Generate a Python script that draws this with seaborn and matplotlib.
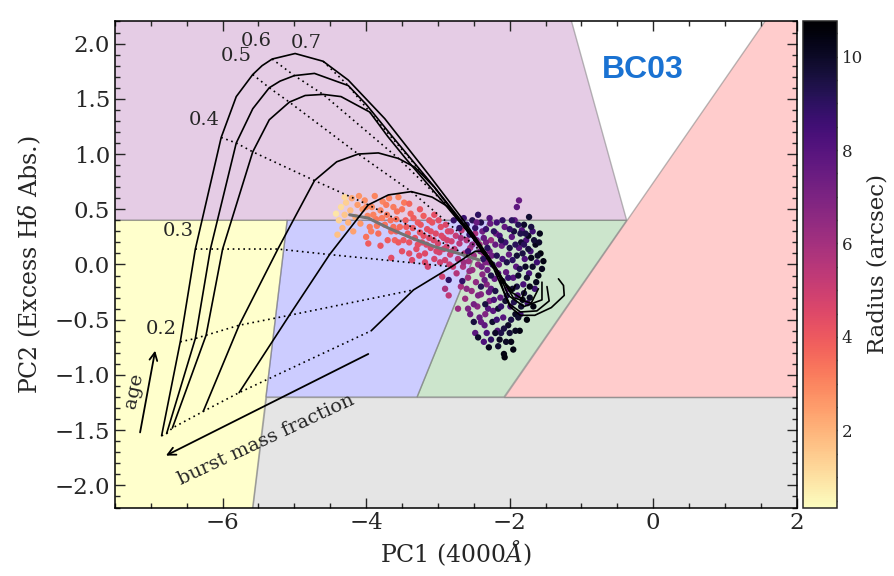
import matplotlib
matplotlib.use("Agg")
import matplotlib.pyplot as plt
import numpy as np
import pandas as pd
import seaborn as sns
from matplotlib.ticker import MultipleLocator
from matplotlib.colors import Normalize
from matplotlib.cm import ScalarMappable

# ---------------- model tracks (BC03 bursts) ----------------
# every track is sampled at the same burst ages (Gyr); dotted lines join equal ages
ages = [0.1, 0.2, 0.3, 0.4, 0.45, 0.5, 0.55, 0.6, 0.65, 0.7, 0.8, 1.0, 1.4, 2.0, 3.0, 5.0, 8.0, 13.0]
iso_ages = [0.1, 0.2, 0.3, 0.4, 0.5, 0.6, 0.7]
iso_labels = ["0.2", "0.3", "0.4", "0.5", "0.6", "0.7"]

track_a_pc1 = [-6.85, -6.59, -6.38, -6.02, -5.81, -5.58, -5.45, -5.31, -4.99, -4.60, -4.25, -3.74, -3.10, -2.62, -2.25, -2.06, -1.96, -1.92]
track_a_pc2 = [-1.55, -0.70, 0.14, 1.15, 1.52, 1.72, 1.80, 1.86, 1.91, 1.84, 1.67, 1.32, 0.79, 0.38, 0.03, -0.17, -0.24, -0.19]
track_b_pc1 = [-6.78, -6.38, -6.17, -5.81, -5.58, -5.35, -5.20, -5.00, -4.72, -4.25, -4.00, -3.65, -3.06, -2.58, -2.20, -2.00, -1.83, -1.78]
track_b_pc2 = [-1.53, -0.67, 0.14, 1.10, 1.41, 1.60, 1.66, 1.71, 1.73, 1.62, 1.45, 1.17, 0.71, 0.32, -0.02, -0.24, -0.31, -0.22]
track_c_pc1 = [-6.70, -6.23, -6.00, -5.58, -5.35, -5.07, -4.85, -4.60, -4.35, -3.95, -3.70, -3.45, -3.00, -2.55, -2.17, -1.95, -1.70, -1.60]
track_c_pc2 = [-1.48, -0.64, 0.14, 1.02, 1.31, 1.47, 1.53, 1.54, 1.52, 1.38, 1.16, 0.96, 0.62, 0.27, -0.06, -0.30, -0.35, -0.22]
track_d_pc1 = [-6.27, -5.77, -5.23, -4.72, -4.41, -4.11, -3.83, -3.55, -3.32, -3.05, -2.85, -2.60, -2.35, -2.15, -2.02, -1.80, -1.55, -1.55]
track_d_pc2 = [-1.33, -0.55, 0.14, 0.76, 0.93, 1.00, 1.01, 0.96, 0.88, 0.70, 0.53, 0.32, 0.10, -0.08, -0.28, -0.38, -0.32, -0.16]
track_e_pc1 = [-5.77, -5.07, -4.51, -3.97, -3.69, -3.37, -3.08, -2.85, -2.70, -2.52, -2.38, -2.22, -2.10, -2.00, -1.85, -1.62, -1.45, -1.48]
track_e_pc2 = [-1.16, -0.46, 0.09, 0.54, 0.63, 0.66, 0.61, 0.52, 0.40, 0.25, 0.12, -0.04, -0.22, -0.36, -0.43, -0.42, -0.33, -0.20]
track_f_pc1 = [-3.93, -3.34, -2.81, -2.58, -2.48, -2.40, -2.32, -2.26, -2.20, -2.14, -2.08, -2.00, -1.85, -1.65, -1.42, -1.24, -1.25, -1.32]
track_f_pc2 = [-0.60, -0.23, -0.02, 0.08, 0.12, 0.12, 0.07, 0.02, -0.04, -0.12, -0.25, -0.38, -0.46, -0.46, -0.39, -0.28, -0.19, -0.13]

# median trend of the spaxels
trend_pc1 = [-4.23, -3.97, -3.69, -3.37, -3.04, -2.71, -2.42]
trend_pc2 = [0.45, 0.42, 0.33, 0.24, 0.16, 0.10, 0.04]

# ---------------- spaxels, grouped by radius band ----------------
inner_pc1 = [-4.42, -4.38, -4.35, -4.33, -4.30, -4.28, -4.25, -4.22, -4.20, -4.18, -4.15, -4.12, -4.40, -4.08, -4.30, -4.05]
inner_pc2 = [0.46, 0.40, 0.52, 0.33, 0.45, 0.56, 0.38, 0.49, 0.60, 0.30, 0.43, 0.54, 0.27, 0.37, 0.61, 0.50]
inner_r = [0.9, 1.3, 1.1, 1.9, 1.6, 1.4, 2.0, 1.8, 2.3, 2.4, 2.2, 2.5, 1.7, 2.6, 1.2, 2.6]

orange_pc1 = [-4.02, -3.98, -3.95, -3.92, -3.88, -3.86, -3.83, -3.80, -3.77, -3.74, -3.71, -3.68, -3.65, -3.62, -3.58, -3.55, -3.53, -3.50, -3.47, -3.97, -3.80, -3.60, -4.00,
              -4.10, -4.00, -3.93, -3.90, -3.85, -3.78, -3.72, -3.66, -3.62, -3.57]
orange_pc2 = [0.58, 0.44, 0.34, 0.52, 0.62, 0.41, 0.28, 0.49, 0.57, 0.36, 0.45, 0.60, 0.30, 0.52, 0.41, 0.61, 0.34, 0.50, 0.56, 0.19, 0.17, 0.22, 0.25,
              0.62, 0.52, 0.30, 0.45, 0.35, 0.42, 0.54, 0.40, 0.34, 0.48]
orange_r = [2.8, 3.0, 3.2, 2.9, 3.0, 3.3, 3.5, 3.1, 3.0, 3.4, 3.3, 3.1, 3.6, 3.2, 3.5, 3.0, 3.6, 3.4, 3.3, 3.9, 4.1, 3.8, 3.4,
            2.7, 2.9, 3.2, 3.1, 3.3, 3.2, 3.2, 3.4, 3.5, 3.4]

pink_pc1 = [-3.45, -3.42, -3.40, -3.38, -3.35, -3.32, -3.30, -3.28, -3.25, -3.22, -3.20, -3.18, -3.15, -3.12, -3.10, -3.08, -3.05, -3.03, -3.00, -2.98,
            -2.96, -2.94, -2.92, -2.90, -2.88, -2.86, -2.85, -2.83, -2.81, -2.79, -3.65, -3.50, -3.36, -3.14, -3.55, -3.25, -3.05, -3.40,
            -3.44, -3.40, -3.34, -3.28, -3.24, -3.20, -3.16, -3.12, -3.10, -3.06, -3.02, -2.99, -2.95, -2.92, -2.89, -2.87, -2.84, -2.82,
            -2.80, -3.48, -3.58, -3.70, -3.18, -2.97, -3.26]
pink_pc2 = [0.40, 0.28, 0.20, 0.46, 0.33, 0.24, 0.14, 0.38, 0.29, 0.20, 0.44, 0.10, 0.32, 0.24, 0.15, 0.38, 0.05, 0.28, 0.19, 0.11,
            0.34, -0.11, 0.24, 0.04, 0.16, 0.30, -0.28, 0.09, 0.21, -0.02, 0.06, 0.12, 0.04, -0.02, 0.20, 0.50, 0.45, 0.55,
            0.34, 0.10, 0.42, 0.18, 0.36, 0.26, 0.18, 0.40, 0.30, 0.22, 0.12, 0.40, 0.26, 0.14, 0.36, 0.22, 0.00, 0.30,
            0.12, 0.22, 0.30, 0.22, 0.02, 0.02, 0.08]
pink_r = [3.9, 4.0, 4.2, 3.8, 4.1, 4.3, 4.4, 4.0, 4.2, 4.4, 3.9, 4.5, 4.3, 4.5, 4.6, 4.2, 4.7, 4.5, 4.7, 4.8,
          4.4, 5.0, 4.7, 4.9, 4.8, 4.6, 5.3, 5.0, 4.9, 5.1, 4.4, 4.3, 4.6, 4.8, 4.0, 4.1, 4.3, 3.7,
          4.0, 4.4, 3.9, 4.3, 4.1, 4.3, 4.5, 4.2, 4.4, 4.6, 4.7, 4.4, 4.6, 4.8, 4.6, 4.8, 5.1, 4.8,
          5.0, 4.1, 3.8, 3.9, 4.6, 4.9, 4.5]

magenta_pc1 = [-2.77, -2.75, -2.74, -2.72, -2.70, -2.68, -2.67, -2.65, -2.63, -2.62, -2.60, -2.58, -2.57, -2.55, -2.53, -2.52,
               -2.50, -2.48, -2.47, -2.45, -2.44, -2.42, -2.40, -2.38, -2.36, -2.34, -2.32, -2.30, -2.28, -2.26, -2.72, -2.90,
               -2.52, -2.56, -2.60, -2.64, -2.68, -2.44, -2.46, -2.41, -2.39, -2.34, -2.50, -2.58]
magenta_pc2 = [0.14, 0.26, -0.08, 0.05, 0.19, -0.20, 0.31, -0.02, 0.10, -0.31, 0.22, -0.12, 0.03, 0.15, -0.24, -0.05,
               0.08, 0.28, -0.16, -0.38, 0.00, 0.18, -0.27, -0.09, 0.10, -0.45, -0.18, 0.02, -0.33, 0.22, -0.40, -0.22,
               0.18, -0.06, -0.22, 0.02, 0.24, -0.28, 0.22, 0.12, -0.02, 0.02, -0.36, -0.40]
magenta_r = [5.3, 5.2, 5.6, 5.5, 5.4, 5.9, 5.3, 5.8, 5.7, 6.2, 5.6, 6.1, 6.0, 5.9, 6.4, 6.3,
             6.2, 5.8, 6.5, 6.7, 6.5, 6.2, 6.8, 6.7, 6.5, 6.9, 6.8, 6.7, 6.9, 6.4, 6.3, 5.9,
             6.6, 6.4, 6.6, 6.2, 5.9, 7.0, 7.0, 7.2, 7.3, 7.0, 7.2, 7.0]

indigo_pc1 = [-2.78, -2.70, -2.64, -2.60, -2.56, -2.52, -2.48, -2.44, -2.66, -2.85, -2.40, -2.58]
indigo_pc2 = [0.40, 0.33, 0.42, 0.36, 0.27, 0.40, 0.33, 0.45, -0.15, -0.14, 0.38, 0.12]
indigo_r = [8.8, 9.0, 8.7, 9.1, 8.9, 9.2, 8.8, 9.0, 8.9, 9.0, 9.3, 8.6]

violet_pc1 = [-2.38, -2.35, -2.33, -2.31, -2.29, -2.27, -2.25, -2.23, -2.21, -2.19, -2.17, -2.15, -2.13, -2.11, -2.09, -2.07,
              -2.05, -2.03, -2.01, -1.99, -1.97, -1.95, -1.93, -1.91, -1.89, -1.87, -1.85, -1.83, -1.81, -1.79, -1.77, -1.75,
              -1.73, -1.71, -1.68, -1.65, -1.62, -2.42, -2.48, -2.55, -2.36, -1.87, -1.90,
              -2.35, -2.30, -2.28, -2.26, -2.22, -2.20, -2.16, -2.14, -2.10, -2.06, -2.02, -2.46, -2.36, -2.28, -2.40, -2.32]
violet_pc2 = [0.30, -0.55, 0.20, -0.05, -0.25, 0.37, 0.08, -0.42, -0.13, 0.28, -0.60, 0.00, -0.30, 0.17, -0.48, 0.34,
              -0.07, -0.22, 0.09, -0.38, 0.25, -0.12, 0.40, -0.02, -0.28, 0.15, -0.45, 0.31, -0.18, 0.05, 0.22, -0.35,
              -0.08, 0.12, 0.30, -0.22, 0.02, -0.48, -0.62, -0.45, -0.70, 0.58, 0.52,
              -0.14, -0.40, 0.12, -0.22, -0.32, 0.18, -0.08, 0.26, 0.05, 0.20, -0.12, 0.38, 0.24, 0.42, -0.52, -0.62]
violet_r = [7.3, 7.8, 7.2, 7.4, 7.6, 7.5, 7.3, 7.9, 7.6, 7.4, 8.1, 7.5, 7.8, 7.5, 8.0, 7.7,
            7.7, 7.9, 7.6, 8.2, 7.8, 8.0, 7.9, 7.9, 8.3, 8.0, 8.4, 8.1, 8.3, 8.2, 8.3, 8.5,
            8.4, 8.4, 8.5, 8.6, 8.6, 7.6, 7.9, 7.4, 8.2, 7.5, 7.8,
            7.5, 8.0, 7.4, 7.8, 8.2, 7.6, 8.0, 8.4, 8.3, 8.6, 8.7, 7.5, 7.6, 8.1, 7.6, 8.3]

outer_pc1 = [-2.50, -2.44, -2.40, -2.37, -2.34, -2.31, -2.29, -2.26, -2.24, -2.22, -2.20, -2.18, -2.16, -2.14, -2.12, -2.10,
             -2.08, -2.07, -2.06, -2.04, -2.02, -2.00, -1.98, -1.96, -1.94, -1.92, -1.90, -1.88, -1.86, -1.84, -1.82, -1.80,
             -1.78, -1.76, -1.74, -1.72, -1.70, -1.67, -1.64, -1.60, -1.57, -1.53, -1.73, -2.20, -1.95, -1.58,
             -2.33, -2.24, -2.18, -2.12, -2.08, -2.04, -2.00, -1.98, -1.96, -1.94, -1.92, -1.90, -1.88, -1.86, -1.84,
             -1.82, -1.80, -1.78, -1.76, -1.74, -1.72, -1.70, -1.68, -1.66, -1.63, -1.61, -1.59, -1.55, -2.26, -2.16,
             -2.12, -2.05, -2.00, -1.92, -1.88, -2.18, -2.10, -1.97, -1.85, -1.80]
outer_pc2 = [-0.52, -0.66, -0.20, 0.05, -0.36, 0.15, -0.75, -0.10, -0.52, 0.30, -0.24, 0.08, -0.40, -0.68, 0.22, -0.15,
             -0.81, -0.84, -0.33, 0.02, -0.55, 0.15, -0.70, -0.22, 0.30, -0.45, 0.08, -0.10, -0.60, 0.20, -0.32, 0.36,
             -0.02, -0.50, 0.26, -0.20, 0.06, -0.38, 0.18, -0.10, 0.10, 0.03, 0.43, -0.62, -0.77, 0.28,
             0.32, 0.00, -0.50, -0.38, -0.58, -0.28, 0.32, -0.50, 0.04, -0.34, 0.18, -0.20, 0.36, -0.04, -0.38,
             0.10, -0.26, 0.28, -0.12, 0.14, -0.30, 0.34, -0.02, 0.22, -0.16, 0.08, 0.20, -0.04, -0.68, -0.74,
             -0.62, -0.70, -0.62, -0.60, -0.48, 0.38, 0.40, 0.40, 0.28, 0.18]
outer_r = [9.6, 9.9, 9.2, 9.0, 9.5, 9.1, 10.2, 9.3, 9.8, 9.0, 9.4, 9.2, 9.7, 10.1, 9.3, 9.5,
           10.4, 10.5, 9.8, 9.4, 10.0, 9.5, 10.3, 9.8, 9.6, 10.1, 9.7, 9.9, 10.4, 9.8, 10.2, 9.9,
           10.0, 10.5, 10.1, 10.3, 10.2, 10.5, 10.3, 10.4, 10.5, 10.4, 9.8, 10.0, 10.4, 10.2,
           8.7, 8.9, 8.6, 8.8, 9.6, 9.0, 8.8, 9.4, 9.0, 9.3, 9.1, 9.5, 9.2, 9.3, 9.8,
           9.5, 9.7, 9.4, 9.8, 9.6, 10.0, 9.5, 9.9, 9.7, 10.1, 10.0, 9.9, 10.2, 9.0, 9.8,
           9.4, 10.0, 9.7, 10.1, 9.9, 8.5, 8.9, 9.0, 9.3, 9.1]

# ---------------- classification regions (PC1, PC2 vertices) ----------------
regions = [
    ("#800080", [(-7.6, 0.4), (-7.6, 2.3), (-1.18, 2.3), (-0.37, 0.4)]),
    ("#ffff00", [(-7.6, 0.4), (-5.10, 0.4), (-5.60, -2.3), (-7.6, -2.3)]),
    ("#0000ff", [(-5.10, 0.4), (-2.29, 0.4), (-3.29, -1.2), (-5.396, -1.2)]),
    ("#008000", [(-2.29, 0.4), (-0.37, 0.4), (-2.08, -1.2), (-3.29, -1.2)]),
    ("#ff0000", [(-2.08, -1.2), (2.1, -1.2), (2.1, 2.3), (1.66, 2.3)]),
    ("#808080", [(-5.396, -1.2), (2.1, -1.2), (2.1, -2.3), (-5.60, -2.3)]),
]

radius_min, radius_max = 0.35, 10.75

# ---------------- figure ----------------
sns.set_style("ticks")
plt.rcParams.update({
    "font.family": ["DejaVu Serif"],
    "mathtext.fontset": "dejavuserif",
    "axes.linewidth": 1.1,
})

fig = plt.figure(figsize=(8.94, 5.76), dpi=100)
ax = fig.add_axes([0.1286, 0.1189, 0.7626, 0.8438])
cax = fig.add_axes([0.8979, 0.1189, 0.038, 0.8438])

for color, verts in regions:
    xs = [v[0] for v in verts]
    ys = [v[1] for v in verts]
    ax.fill(xs, ys, facecolor=matplotlib.colors.to_rgba(color, 0.2),
            edgecolor=(0.5, 0.5, 0.5, 0.55), lw=1.0, zorder=0)

norm = Normalize(vmin=radius_min, vmax=radius_max)
spaxels = pd.concat([
    pd.DataFrame({"pc1": inner_pc1, "pc2": inner_pc2, "radius": inner_r}),
    pd.DataFrame({"pc1": orange_pc1, "pc2": orange_pc2, "radius": orange_r}),
    pd.DataFrame({"pc1": pink_pc1, "pc2": pink_pc2, "radius": pink_r}),
    pd.DataFrame({"pc1": magenta_pc1, "pc2": magenta_pc2, "radius": magenta_r}),
    pd.DataFrame({"pc1": indigo_pc1, "pc2": indigo_pc2, "radius": indigo_r}),
    pd.DataFrame({"pc1": violet_pc1, "pc2": violet_pc2, "radius": violet_r}),
    pd.DataFrame({"pc1": outer_pc1, "pc2": outer_pc2, "radius": outer_r}),
], ignore_index=True)

sns.scatterplot(data=spaxels, x="pc1", y="pc2", hue="radius", palette="magma_r",
                hue_norm=norm, s=21, linewidth=0, legend=False, ax=ax, zorder=2)

ax.plot(trend_pc1, trend_pc2, color="0.45", lw=2.2, zorder=3, solid_capstyle="round")

tracks = [(track_a_pc1, track_a_pc2), (track_b_pc1, track_b_pc2), (track_c_pc1, track_c_pc2),
          (track_d_pc1, track_d_pc2), (track_e_pc1, track_e_pc2), (track_f_pc1, track_f_pc2)]
for tx, ty in tracks:
    ax.plot(tx, ty, color="k", lw=1.2, zorder=4)

pc1_grid = np.array([t[0] for t in tracks])
pc2_grid = np.array([t[1] for t in tracks])
for age in iso_ages:
    k = ages.index(age)
    ax.plot(pc1_grid[:, k], pc2_grid[:, k], color="k", lw=1.2, ls=(0, (1, 2.2)), zorder=4)

label_offsets = [(-14, 9), (-12, 13), (-12, 12.5), (-12, 13), (-11.5, 13), (-12, 13.5)]
for age, text, off in zip(iso_ages[1:], iso_labels, label_offsets):
    k = ages.index(age)
    ax.annotate(text, (track_a_pc1[k], track_a_pc2[k]), xytext=off,
                textcoords="offset points", ha="center", va="center", fontsize=14, zorder=5)

# direction guides
ax.annotate("", xy=(-6.94, -0.78), xytext=(-7.15, -1.52),
            arrowprops=dict(arrowstyle="->", lw=1.3, color="k", mutation_scale=14, shrinkA=0, shrinkB=0))
ax.text(-7.23, -1.14, "age", rotation=78, ha="center", va="center", fontsize=14)
ax.annotate("", xy=(-6.79, -1.73), xytext=(-3.97, -0.81),
            arrowprops=dict(arrowstyle="->", lw=1.3, color="k", mutation_scale=14, shrinkA=0, shrinkB=0))
ax.text(-5.40, -1.59, "burst mass fraction", rotation=25, ha="center", va="center", fontsize=14)

ax.text(-0.15, 1.76, "BC03", color="#1a72d2", fontsize=23, fontweight="bold",
        family="Liberation Sans", ha="center", va="center")

ax.set_xlim(-7.5, 2.0)
ax.set_ylim(-2.2, 2.2)
ax.xaxis.set_major_locator(MultipleLocator(2))
ax.xaxis.set_minor_locator(MultipleLocator(0.5))
ax.yaxis.set_major_locator(MultipleLocator(0.5))
ax.yaxis.set_minor_locator(MultipleLocator(0.1))
ax.tick_params(which="both", direction="in", top=True, right=True, labelsize=16.5, width=1.0)
ax.tick_params(which="major", length=7.5)
ax.tick_params(which="minor", length=3.8)
ax.set_xlabel(r"PC1 (4000$\AA$)", fontsize=17, labelpad=3)
ax.set_ylabel(r"PC2 (Excess H$\delta$ Abs.)", fontsize=17, labelpad=8)
for sp in ax.spines.values():
    sp.set_color("k")

cb = fig.colorbar(ScalarMappable(norm=norm, cmap="magma_r"), cax=cax)
cb.set_ticks([2, 4, 6, 8, 10])
cb.ax.yaxis.set_minor_locator(MultipleLocator(0.5))
cb.ax.tick_params(which="both", direction="in", right=True, left=False, labelsize=12, width=1.0)
cb.ax.tick_params(which="major", length=7)
cb.ax.tick_params(which="minor", length=3.5)
cb.outline.set_linewidth(1.1)
cb.set_label("Radius (arcsec)", fontsize=16.5, labelpad=3)

fig.savefig("out.png", dpi=100)
